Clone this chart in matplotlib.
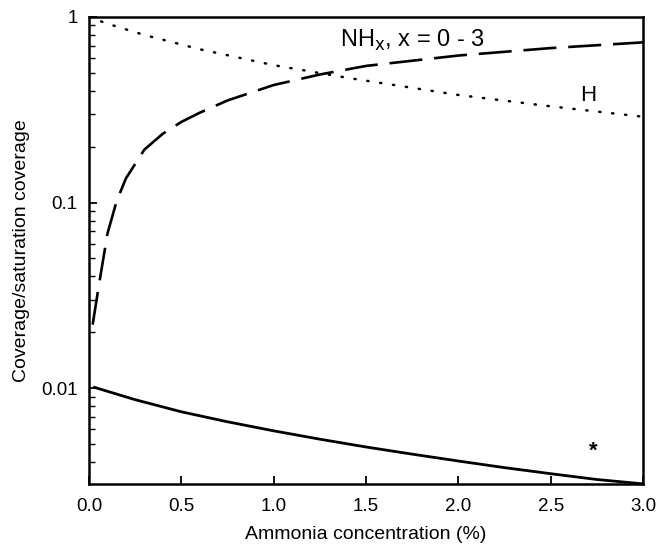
import matplotlib
matplotlib.use('Agg')
import matplotlib.pyplot as plt
from matplotlib.ticker import FixedLocator, NullFormatter, LogLocator

plt.rcParams['font.family'] = ['Liberation Sans', 'DejaVu Sans']

# values
x_nh = [0.02, 0.05, 0.1, 0.15, 0.2, 0.3, 0.4, 0.5, 0.6, 0.75, 1.0, 1.25, 1.5, 2.0, 2.5, 3.0]
y_nh = [0.022, 0.034, 0.068, 0.102, 0.135, 0.193, 0.235, 0.272, 0.305, 0.355, 0.43, 0.49, 0.545, 0.62, 0.68, 0.73]

x_h = [0.0, 0.1, 0.3, 0.6, 1.0, 1.4, 2.0, 2.5, 3.0]
y_h = [1.0, 0.92, 0.80, 0.67, 0.55, 0.47, 0.38, 0.33, 0.29]

x_s = [0.03, 0.25, 0.5, 0.75, 1.0, 1.25, 1.5, 1.75, 2.0, 2.25, 2.5, 2.75, 3.0]
y_s = [0.0101, 0.00867, 0.00746, 0.00659, 0.00589, 0.00531, 0.00482, 0.00441,
       0.00405, 0.00373, 0.00346, 0.00322, 0.00305]

star_x, star_y = 2.73, 0.0046

fig = plt.figure(figsize=(6.59, 5.48), dpi=100)
ax = fig.add_axes([0.135, 0.117, 0.841, 0.852])

ax.plot(x_nh, y_nh, color='black', lw=1.9, dashes=(12.5, 4.5))
ax.plot(x_h, y_h, color='black', lw=1.8, dashes=(0.5, 4.7), dash_capstyle='round')
ax.plot(x_s, y_s, color='black', lw=2.0)

ax.set_yscale('log')
ax.set_xlim(0, 3.0)
ax.set_ylim(0.00305, 1.0)

ax.set_xticks([0.0, 0.5, 1.0, 1.5, 2.0, 2.5, 3.0])
ax.set_xticklabels(['0.0', '0.5', '1.0', '1.5', '2.0', '2.5', '3.0'])
ax.yaxis.set_major_locator(FixedLocator([0.01, 0.1, 1]))
ax.set_yticklabels(['0.01', '0.1', '1'])
ax.yaxis.set_minor_locator(LogLocator(base=10, subs=range(2, 10)))
ax.yaxis.set_minor_formatter(NullFormatter())

ax.tick_params(axis='both', which='major', direction='in', length=6, width=1.3,
               labelsize=13.5, pad=10)
ax.tick_params(axis='y', which='minor', direction='in', length=4, width=1.0)
ax.tick_params(axis='y', which='major', pad=8)
for s in ax.spines.values():
    s.set_linewidth(1.8)

ax.text(1.36, 0.64, r'NH$_{\mathrm{x}}$, x = 0 - 3', fontsize=17, va='bottom')
ax.text(2.66, 0.33, 'H', fontsize=16, va='bottom')
ax.text(star_x, star_y, '*', fontsize=16, ha='center', va='center', fontweight='bold')

ax.set_xlabel('Ammonia concentration (%)', fontsize=14, labelpad=8)
ax.set_ylabel('Coverage/saturation coverage', fontsize=14, labelpad=8)

fig.savefig('out.png', dpi=100)
